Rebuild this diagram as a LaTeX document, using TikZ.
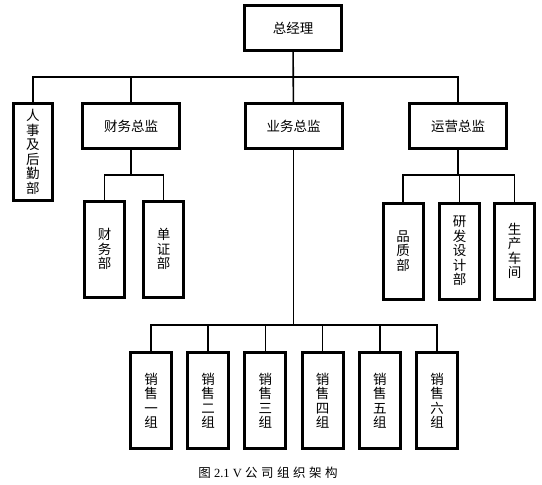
\documentclass[tikz,border=0pt]{standalone}
\usepackage{fontspec}
\setmainfont{Liberation Serif}
\newfontfamily\cjk{Noto Sans CJK SC}
\newfontfamily\cjkcap{Noto Sans CJK SC}[LetterSpace=28]
\usepackage{tikz}
\tikzset{box/.style={draw, line width=3pt, inner sep=0pt, minimum width=97pt, minimum height=45pt,
    font=\cjk\fontsize{13.5}{14.5}\selectfont},
% tall boxes hold text written top to bottom
tallbox/.style={box, minimum width=#1, minimum height=96pt, align=center},
tallbox/.default={40pt},
link/.style={line width=1.6pt}}

\begin{document}
\begin{tikzpicture}[x=1pt,y=-1pt]
        \useasboundingbox (0,0) rectangle (542,485);

        % top levels
        \node[box] (zjl) at (293,28) {总经理};
        \node[box] (cwzj) at (131,126) {财务总监};
        \node[box] (ywzj) at (293.5,126) {业务总监};
        \node[box] (yyzj) at (458,126) {运营总监};
        \node[tallbox=39pt, minimum height=97pt] (rs) at (33,152) {人\\事\\及\\后\\勤\\部};

        % departments
        \node[tallbox] (cwb) at (104.5,249) {财\\务\\部};
        \node[tallbox] (dzb) at (163.5,249) {单\\证\\部};
        \node[tallbox] (pzb) at (403,251) {品\\质\\部};
        \node[tallbox] (yfb) at (459.5,251) {研\\发\\设\\计\\部};
        \node[tallbox] (sccj) at (514.5,251) {生\\产\\车\\间};

        % sales groups
        \foreach \i/\n in {0/一,1/二,2/三,3/四,4/五,5/六}{
            \node[tallbox=41pt] (xs\i) at (151+57.2*\i,400.5) {销\\售\\\n\\组};
        }

        % connectors
        \coordinate (bus1) at (0,77);
        \coordinate (bus2) at (0,175);
        \coordinate (bus3) at (0,325);
        \draw[link] (zjl) -- (ywzj);
        \draw[link] (rs.north) -- (rs.north |- bus1) -- (yyzj.north |- bus1) -- (yyzj.north);
        \draw[link] (cwzj.north) -- (cwzj.north |- bus1);

        \draw[link] (cwzj) -- (cwzj |- bus2);
        \draw[link] (cwb.north) -- (cwb.north |- bus2) -- (dzb.north |- bus2) -- (dzb.north);

        \draw[link] (yyzj) -- (yyzj |- bus2);
        \draw[link] (pzb.north) -- (pzb.north |- bus2) -- (sccj.north |- bus2) -- (sccj.north);
        \draw[link] (yfb.north) -- (yfb.north |- bus2);

        \draw[link] (ywzj) -- (ywzj |- bus3);
        \draw[link] (xs0.north) -- (xs0.north |- bus3) -- (xs5.north |- bus3) -- (xs5.north);
        \foreach \i in {1,...,4}{
            \draw[link] (xs\i.north) -- (xs\i.north |- bus3);
        }

        % caption
        \node[font=\fontsize{12.5}{14}\selectfont] (cap) at (268,473) {{\cjkcap 图} 2.1 V {\cjkcap 公司组织架构}};
\end{tikzpicture}
\end{document}
